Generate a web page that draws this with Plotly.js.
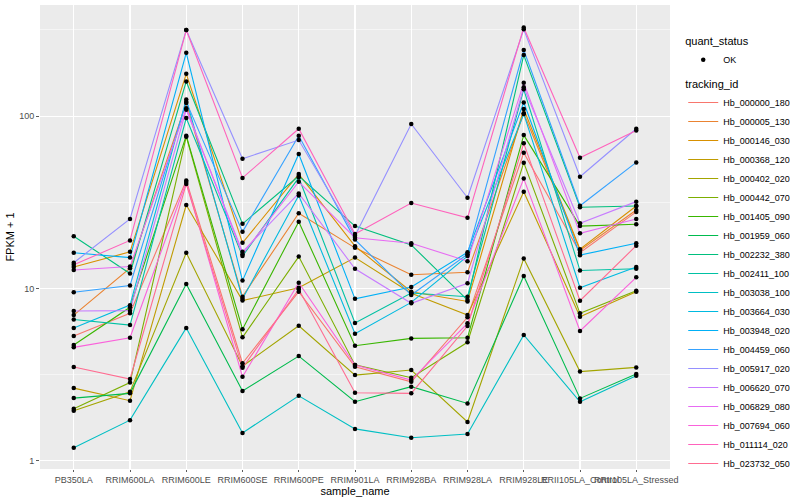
<!DOCTYPE html>
<html>
<head>
<meta charset="utf-8">
<script src="https://cdn.plot.ly/plotly-3.0.1.min.js"></script>
<style>html,body{margin:0;padding:0;background:#fff;}#chart{width:800px;height:500px;}</style>
</head>
<body>
<div id="chart"></div>
<script>
const samples = ["PB350LA","RRIM600LA","RRIM600LE","RRIM600SE","RRIM600PE","RRIM901LA","RRIM928BA","RRIM928LA","RRIM928LE","RRII105LA_Control","RRII105LA_Stressed"];

const trackingIds = ["Hb_000000_180","Hb_000005_130","Hb_000146_030","Hb_000368_120","Hb_000402_020","Hb_000442_070","Hb_001405_090","Hb_001959_060","Hb_002232_380","Hb_002411_100","Hb_003038_100","Hb_003664_030","Hb_003948_020","Hb_004459_060","Hb_005917_020","Hb_006620_070","Hb_006829_080","Hb_007694_060","Hb_011114_020","Hb_023732_050"];

const colors = ["#F8766D","#EA8331","#D89000","#C09B00","#A3A500","#7CAE00","#39B600","#00BB4E","#00BF7D","#00C1A3","#00BFC4","#00BAE0","#00B0F6","#35A2FF","#9590FF","#C77CFF","#E76BF3","#FA62DB","#FF62BC","#FF6C91"];

// FPKM + 1 per tracking id, in sample order
const Hb_000000_180 = [5.3, 7.17, 42.3, 3.68, 9.57, 3.51, 2.87, 6.8, 61.3, 16.1, 27.8];
const Hb_000005_130 = [7.0, 13.1, 119, 8.96, 27.3, 17.2, 12.0, 12.4, 104, 16.6, 28.5];
const Hb_000146_030 = [13.3, 16.3, 176, 18.4, 46.1, 17.6, 9.57, 8.4, 110, 16.9, 30.1];
const Hb_000368_120 = [2.64, 2.23, 30.5, 8.5, 10.1, 15.1, 9.37, 7.0, 36.4, 6.85, 9.57];
const Hb_000402_020 = [1.95, 2.51, 16.1, 3.54, 6.07, 3.14, 3.36, 1.68, 14.9, 3.29, 3.48];
const Hb_000442_070 = [2.0, 2.84, 76, 5.2, 15.3, 3.6, 3.03, 4.87, 53.7, 7.17, 9.7];
const Hb_001405_090 = [4.7, 7.77, 77, 5.8, 24.4, 4.65, 5.13, 5.17, 77.6, 23.0, 23.6];
const Hb_001959_060 = [2.31, 2.46, 10.6, 2.54, 4.05, 2.2, 2.69, 2.15, 11.8, 2.30, 3.19];
const Hb_002232_380 = [20.1, 12.2, 159, 23.7, 44.9, 23, 17.9, 8.56, 226, 29.6, 30.1];
const Hb_002411_100 = [6.6, 6.13, 97.5, 15.4, 44, 6.3, 9.4, 8.95, 143, 12.7, 13.0];
const Hb_003038_100 = [1.19, 1.72, 5.9, 1.45, 2.38, 1.53, 1.36, 1.43, 5.37, 2.2, 3.11];
const Hb_003664_030 = [5.9, 8.0, 125, 8.7, 34.6, 5.46, 8.3, 15.4, 103, 10.1, 13.3];
const Hb_003948_020 = [16.1, 15.1, 233, 11.1, 60.3, 8.7, 10.2, 16.2, 120, 15.6, 18.3];
const Hb_004459_060 = [9.5, 10.4, 121, 21.3, 77, 19.2, 9.16, 15.8, 242, 30.2, 53.9];
const Hb_005917_020 = [14.1, 25.3, 316, 56.6, 72.6, 20.2, 90, 33.6, 319, 44.5, 84.5];
const Hb_006620_070 = [7.4, 7.43, 109, 16.3, 35.6, 13.0, 8.2, 10.7, 147, 23.9, 31.9];
const Hb_006829_080 = [12.8, 13.4, 111, 15.8, 41.6, 19.7, 18.3, 14.4, 156, 20.9, 25.3];
const Hb_007694_060 = [4.55, 5.17, 41.5, 3.07, 10.8, 3.59, 2.94, 6.27, 43.4, 5.66, 11.6];
const Hb_011114_020 = [13.7, 19.0, 316, 43.8, 84.5, 20.7, 31.3, 25.7, 327, 57.4, 82.4];
const Hb_023732_050 = [3.5, 2.98, 40.4, 3.46, 9.9, 2.48, 2.46, 6.05, 69.5, 8.49, 17.7];

const seriesValues = [Hb_000000_180,Hb_000005_130,Hb_000146_030,Hb_000368_120,Hb_000402_020,Hb_000442_070,Hb_001405_090,Hb_001959_060,Hb_002232_380,Hb_002411_100,Hb_003038_100,Hb_003664_030,Hb_003948_020,Hb_004459_060,Hb_005917_020,Hb_006620_070,Hb_006829_080,Hb_007694_060,Hb_011114_020,Hb_023732_050];

const yTickVals = [1, 10, 100];
const yTickText = ["1", "10", "100"];
const yMinorVals = [3.1623, 31.623, 316.23];

const traces = [];
seriesValues.forEach((vals, i) => {
  traces.push({
    type: "scatter", mode: "lines",
    x: samples, y: vals,
    name: trackingIds[i],
    line: {color: colors[i], width: 1.1},
    legend: "legend2",
    hoverinfo: "skip"
  });
});
// black points layer (quant_status = OK)
const px = [], py = [];
seriesValues.forEach(vals => vals.forEach((v, j) => { px.push(samples[j]); py.push(v); }));
traces.push({
  type: "scatter", mode: "markers",
  x: px, y: py, name: "OK",
  marker: {color: "#000000", size: 4.5},
  legend: "legend"
});

const font = {family: "Liberation Sans, Arial, Helvetica, sans-serif", color: "#000"};

const layout = {
  width: 800, height: 500,
  margin: {l: 40, r: 116, t: 5, b: 31},
  paper_bgcolor: "#FFFFFF",
  plot_bgcolor: "#EBEBEB",
  font: font,
  showlegend: true,
  xaxis: {
    type: "category",
    range: [-0.6, 10.6],
    tickangle: 0,
    showgrid: true, gridcolor: "#FFFFFF", gridwidth: 1.1,
    zeroline: false, showline: false,
    ticks: "outside", ticklen: 2, tickcolor: "#333333", tickwidth: 0.8,
    tickfont: {size: 9, color: "#4D4D4D", family: font.family},
    title: {text: "sample_name", font: {size: 11, color: "#000", family: font.family}, standoff: 1},
    automargin: false
  },
  yaxis: {
    type: "log",
    range: [-0.048, 2.645],
    tickmode: "array", tickvals: yTickVals, ticktext: yTickText,
    showgrid: true, gridcolor: "#FFFFFF", gridwidth: 1.1,
    minor: {tickmode: "array", tickvals: yMinorVals, showgrid: true, gridcolor: "#FFFFFF", gridwidth: 0.5, ticks: ""},
    zeroline: false, showline: false,
    ticks: "outside", ticklen: 3, tickcolor: "#333333", tickwidth: 0.8,
    tickfont: {size: 9, color: "#4D4D4D", family: font.family},
    title: {text: "FPKM + 1", font: {size: 11, color: "#000", family: font.family}, standoff: 2},
    automargin: false
  },
  legend: {
    x: 1.021, xanchor: "left", y: 0.944, yanchor: "top",
    bgcolor: "rgba(0,0,0,0)",
    title: {text: "quant_status", font: {size: 11, family: font.family, color: "#000"}},
    font: {size: 9, family: font.family, color: "#000"}
  },
  legend2: {
    x: 1.021, xanchor: "left", y: 0.852, yanchor: "top",
    bgcolor: "rgba(0,0,0,0)",
    title: {text: "tracking_id", font: {size: 11, family: font.family, color: "#000"}},
    font: {size: 9, family: font.family, color: "#000"},
    tracegroupgap: 0
  }
};

Plotly.newPlot("chart", traces, layout, {staticPlot: true, displayModeBar: false});
</script>
</body>
</html>
